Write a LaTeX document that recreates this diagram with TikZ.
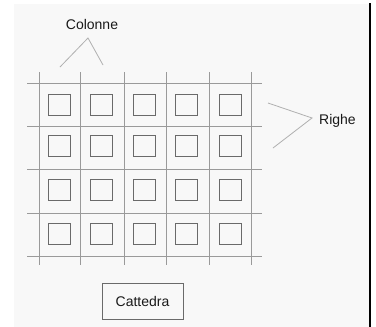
\documentclass[tikz,border=0pt]{standalone}
\usepackage{fontspec}
\setmainfont{Liberation Sans}
\definecolor{bgc}{HTML}{F8F8F8}
\definecolor{gridc}{HTML}{9A9A9A}
\definecolor{seatc}{HTML}{6A6A6A}
\definecolor{leadc}{HTML}{B0B0B0}
\begin{document}
\begin{tikzpicture}[x=1pt,y=-1pt,
  gridline/.style={draw=gridc,line width=0.9pt},
  seat/.style={draw=seatc,line width=0.9pt,minimum width=22pt,minimum height=21pt,inner sep=0pt},
  leader/.style={draw=leadc,line width=0.8pt},
  lbl/.style={font=\fontsize{14}{16}\selectfont,text=black!90,inner sep=0pt},
  deskbox/.style={draw=seatc,line width=0.9pt,minimum width=81pt,minimum height=36pt,inner sep=0pt,font=\fontsize{14}{16}\selectfont,text=black!90}]
\useasboundingbox (0,0) rectangle (376,327);
\fill[bgc] (14,4) rectangle (370,327);
\draw[black,line width=2pt] (370,3) -- (370,327);
% grid
\foreach \x in {39,80,124,166,209,251}{\draw[gridline] (\x,72) -- (\x,265);}
\foreach \y in {83,126,169,213,256}{\draw[gridline] (27,\y) -- (262,\y);}
% seats
\foreach \cx [count=\i] in {59,101.5,144.5,186.5,230}{
  \foreach \cy [count=\j] in {104.5,146,189.5,234}{
    \node[seat] (s\i\j) at (\cx,\cy) {};
  }
}
% labels
\node[lbl] (colonne) at (92,24) {Colonne};
\coordinate (capex) at (88,38);
\coordinate (cl) at (60,67);
\coordinate (cr) at (103,65);
\draw[leader] (cl) -- (capex) -- (cr);
\node[lbl,anchor=west] (righe) at (319,121) {Righe};
\coordinate (rapex) at (312,118);
\coordinate (rt) at (268,103);
\coordinate (rb) at (273,148);
\draw[leader] (rt) -- (rapex) -- (rb);
\node[deskbox] (cattedra) at (142.5,301) {Cattedra};
\end{tikzpicture}
\end{document}
